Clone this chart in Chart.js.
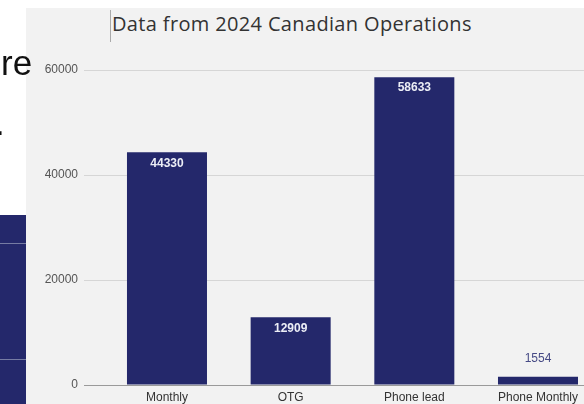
<!DOCTYPE html>
<html>
<head>
<meta charset="utf-8">
<script src="https://cdn.jsdelivr.net/npm/chart.js@4/dist/chart.umd.min.js"></script>
<style>
  html, body { margin: 0; padding: 0; background: #ffffff; width: 584px; height: 404px; overflow: hidden; }
  #wrap { position: relative; width: 584px; height: 404px; }
  #panel { position: absolute; left: 26px; top: 8px; right: 0; bottom: 0; background: #f2f2f2; }
  #dark { position: absolute; left: 0; top: 215px; width: 26px; bottom: 0; background: #24286b; }
  .rule { position: absolute; left: 0; width: 26px; height: 1px; background: #767ba3; }
  #cursor { position: absolute; left: 110px; top: 10px; width: 1px; height: 32px; background: #aaaaaa; }
  #title { position: absolute; left: 112px; top: 10px; font-family: "Open Sans", sans-serif; font-size: 20px; letter-spacing: 0.35px; color: #333333; white-space: nowrap; line-height: normal; }
  #frag { position: absolute; left: 1px; top: 45px; font-family: "Liberation Sans", Arial, sans-serif; font-size: 35px; color: #111111; line-height: 1; }
  #dot { position: absolute; left: -5px; top: 105px; font-family: "Liberation Sans", Arial, sans-serif; font-size: 35px; color: #111111; line-height: 1; }
  canvas { position: absolute; left: 0; top: 0; }
</style>
</head>
<body>
<div id="wrap">
  <div id="panel"></div>
  <div id="dark"><div class="rule" style="top:28px"></div><div class="rule" style="top:144px"></div></div>
  <div id="cursor"></div>
  <div id="title">Data from 2024 Canadian Operations</div>
  <canvas id="c" width="584" height="404"></canvas>
  <div id="frag">re</div>
  <div id="dot">.</div>
</div>
<script>
const categories = ['Monthly', 'OTG', 'Phone lead', 'Phone Monthly'];
const values = [44330, 12909, 58633, 1554];
const yTicks = [0, 20000, 40000, 60000];

const barColor = '#24286b';
const FONT = '"Liberation Sans", Arial, sans-serif';

const dataLabels = {
  id: 'dataLabels',
  afterDatasetsDraw(chart) {
    const ctx = chart.ctx;
    const meta = chart.getDatasetMeta(0);
    ctx.save();
    ctx.textAlign = 'center';
    ctx.textBaseline = 'middle';
    meta.data.forEach((bar, i) => {
      const h = bar.base - bar.y;
      if (h > 30) {
        ctx.fillStyle = '#eceef6';
        ctx.font = 'bold 12px ' + FONT;
        ctx.fillText(String(values[i]), bar.x, bar.y + 11);
      } else {
        ctx.fillStyle = '#464a85';
        ctx.font = '12px ' + FONT;
        ctx.fillText(String(values[i]), bar.x, bar.y - 18);
      }
    });
    ctx.restore();
  }
};

new Chart(document.getElementById('c'), {
  type: 'bar',
  data: {
    datasets: [{
      data: categories.map((c, i) => ({ x: i, y: values[i] })),
      backgroundColor: barColor,
      borderWidth: 0,
      barPercentage: 0.647,
      categoryPercentage: 1
    }]
  },
  options: {
    responsive: false,
    animation: false,
    events: [],
    layout: { padding: { top: 70, left: 0, right: 0, bottom: 0 } },
    plugins: { legend: { display: false }, tooltip: { enabled: false }, title: { display: false } },
    scales: {
      x: {
        type: 'linear',
        offset: false,
        bounds: 'data',
        min: -0.671,
        max: 3.372,
        grid: { display: false, drawTicks: false },
        border: { display: true, color: '#9a9a9a', width: 1 },
        afterBuildTicks(scale) { scale.ticks = categories.map((c, i) => ({ value: i })); },
        afterFit(scale) { scale.height = 19; },
        ticks: {
          autoSkip: false,
          maxRotation: 0,
          padding: 5,
          color: '#333333',
          font: { family: FONT, size: 12 },
          callback: (v) => categories[v] ?? ''
        }
      },
      y: {
        min: 0,
        max: 60000,
        afterBuildTicks(scale) { scale.ticks = yTicks.map(v => ({ value: v })); },
        afterFit(scale) { scale.width = 84; },
        grid: { color: '#d6d6d6', lineWidth: 1, drawTicks: false },
        border: { display: false },
        ticks: {
          padding: 6,
          color: '#555555',
          font: { family: FONT, size: 12 },
          callback: (v) => String(v)
        }
      }
    }
  },
  plugins: [dataLabels]
});
</script>
</body>
</html>
